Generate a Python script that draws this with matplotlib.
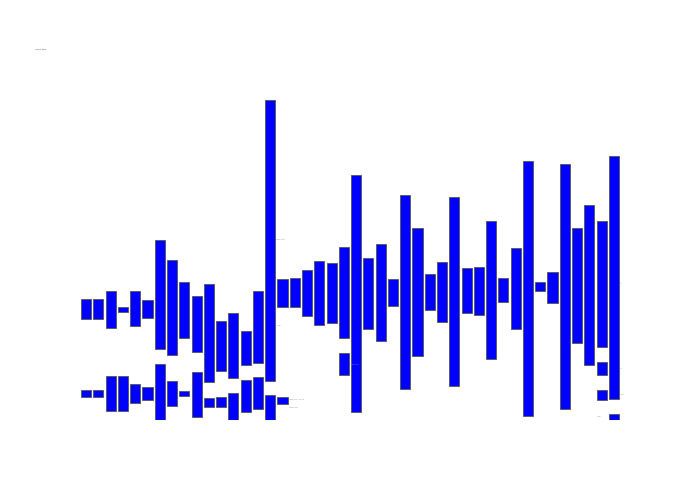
import matplotlib
matplotlib.use("Agg")
import matplotlib.pyplot as plt

# categories (44 slots along x)
categories = [f"c{i + 1}" for i in range(44)]

# main series: lower and upper ends of each floating bar
main_low = [31.5, 31.5, 28.9, 33.8, 29.3, 31.9, 22.2, 20.2, 25.5, 21.1,
            12.0, 15.4, 13.0, 17.1, 17.9, 12.3, 35.4, 35.2, 32.6, 29.8,
            30.2, 25.5, 2.4, 28.4, 24.7, 35.7, 9.6, 19.9, 34.5, 30.7,
            10.5, 33.3, 32.7, 19.0, 36.8, 28.5, 1.2, 40.2, 36.7, 3.4,
            24.0, 17.1, 22.7, 6.7]
main_high = [37.7, 37.7, 40.2, 35.3, 40.2, 37.4, 56.3, 49.9, 43.0, 38.8,
             42.4, 30.8, 33.3, 27.8, 40.3, 100.0, 44.2, 44.4, 46.9, 49.6,
             49.0, 54.2, 76.7, 50.5, 55.0, 44.1, 70.2, 60.0, 45.5, 49.5,
             69.7, 47.4, 47.9, 62.1, 44.3, 53.7, 81.0, 43.0, 46.2, 80.0,
             60.0, 67.1, 62.2, 82.4]

# second series (only some categories)
second_idx = [0, 1, 2, 3, 4, 5, 6, 7, 8, 9, 10, 11, 12, 13, 14, 15, 16, 21, 42, 43]
second_low = [7.1, 7.1, 2.7, 2.7, 5.3, 6.3, 0.0, 4.4, 7.6, 0.9,
              4.0, 4.1, 0.0, 2.6, 3.3, 0.0, 5.0, 14.0, 14.1, 0.0]
second_high = [9.4, 9.4, 13.8, 13.8, 11.3, 10.3, 17.4, 12.3, 9.0, 14.9,
               6.8, 7.1, 8.4, 12.5, 13.4, 7.7, 7.2, 20.9, 18.0, 2.0]

# third series
third_idx = [42]
third_low = [6.3]
third_high = [9.5]

fig = plt.figure(figsize=(7, 5), dpi=100)
ax = fig.add_axes([80 / 700, 80 / 500, 540 / 700, 320 / 500])

x = list(range(len(categories)))
bar_style = dict(width=0.82, color="#0000ff", edgecolor="#555555", linewidth=0.6)

ax.bar(x, [h - l for l, h in zip(main_low, main_high)], bottom=main_low, **bar_style)
ax.bar(second_idx, [h - l for l, h in zip(second_low, second_high)],
       bottom=second_low, **bar_style)
ax.bar(third_idx, [h - l for l, h in zip(third_low, third_high)],
       bottom=third_low, **bar_style)

ax.set_xlim(-0.5, len(categories) - 0.5)
ax.set_ylim(0, 100)
ax.axis("off")

# tiny labels, practically unreadable in the original
fig.text(35 / 700, 1 - 49 / 500, "Chart title", fontsize=1.6, color="#444444",
         va="center")
tiny = dict(fontsize=1.4, color="#8899aa", va="center")
ax.text(15.5, 56.3, "label text", **tiny)
ax.text(15.5, 29.4, "label", **tiny)
ax.text(21.5, 17.5, "label text", **tiny)
ax.text(16.5, 6.3, "label text value", **tiny)
ax.text(16.5, 4.1, "label text", **tiny)
ax.text(43.5, 42.5, "lbl", **tiny)
ax.text(43.5, 16.0, "lbl", **tiny)
ax.text(43.5, 8.0, "label", **tiny)
ax.text(41.6, 1.2, "label", **tiny)

fig.savefig("out.png", dpi=100)
